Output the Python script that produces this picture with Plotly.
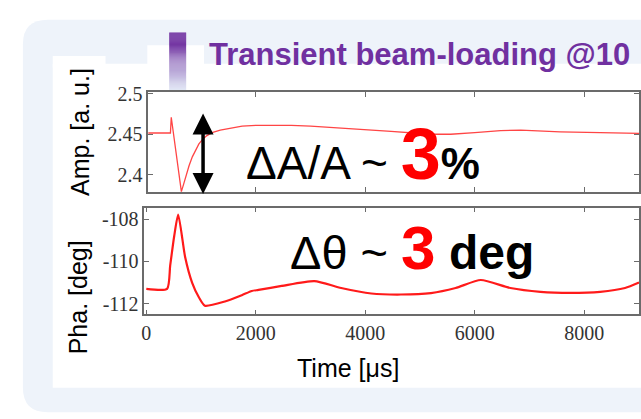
import plotly.graph_objects as go

# ---- measured RF amplitude / phase during beam loading ----
t_amp = [0, 440, 455, 640, 680, 720, 780, 840, 900, 960, 1020, 1100, 1200, 1350, 1500,
         1750, 2000, 2650, 3000, 3750, 4470, 5200, 5560, 6000, 6470, 6840, 7560, 8290,
         8840, 9000]
amp = [2.4515, 2.4515, 2.471, 2.379, 2.388, 2.398, 2.411, 2.422, 2.431, 2.438, 2.443,
       2.448, 2.452, 2.455, 2.457, 2.460, 2.461, 2.461, 2.460, 2.457, 2.4536, 2.450,
       2.450, 2.452, 2.4545, 2.455, 2.453, 2.452, 2.451, 2.451]

t_pha = [0, 380, 436, 509, 582, 710, 836, 960, 1070, 1436, 1745, 1927, 2050, 2473, 3070,
         3560, 4110, 4650, 5200, 5650, 6110, 6650, 7200, 7745, 8290, 8745, 9000]
pha = [-111.3, -111.3, -110.2, -108.8, -107.77, -109.8, -111.0, -111.7, -112.1, -111.9,
       -111.6, -111.4, -111.35, -111.16, -110.93, -111.26, -111.52, -111.57, -111.5,
       -111.26, -110.88, -111.26, -111.44, -111.49, -111.44, -111.26, -111.0]

x_ticks = [0, 2000, 4000, 6000, 8000]
amp_ticks = [2.4, 2.45, 2.5]
amp_ticktext = ["2.4", "2.45", "2.5"]
pha_ticks = [-112, -110, -108]
pha_ticktext = ["-112", "-110", "-108"]

W, H = 641, 419


def px(x):
    return x / W


def py(y):
    return 1 - y / H


SERIF = "Liberation Serif, Times New Roman, serif"
SANS = "Liberation Sans, Arial, sans-serif"
FRAME = "#6b6b6b"

fig = go.Figure()
fig.add_trace(go.Scatter(x=t_amp, y=amp, mode="lines", xaxis="x", yaxis="y",
                         line=dict(color="#ff4545", width=1.3), showlegend=False))
fig.add_trace(go.Scatter(x=t_pha, y=pha, mode="lines", xaxis="x2", yaxis="y2",
                         line=dict(color="#ff1a1a", width=2.2, shape="spline",
                                   smoothing=0.6),
                         showlegend=False))

axis_common = dict(showgrid=False, zeroline=False, showline=True, linecolor=FRAME,
                   linewidth=1.5, mirror="ticks", ticks="inside", ticklen=5,
                   tickcolor=FRAME, tickwidth=1.2,
                   tickfont=dict(family=SERIF, size=20, color="#333333"))

fig.update_layout(
    width=W, height=H, margin=dict(l=0, r=0, t=0, b=0),
    paper_bgcolor="white", plot_bgcolor="white",
    xaxis=dict(domain=[px(146), px(639)], range=[36, 9000], anchor="y",
               tickvals=x_ticks, showticklabels=False, **axis_common),
    yaxis=dict(domain=[py(187), py(85)], range=[2.3786, 2.502], anchor="x",
               tickvals=amp_ticks, ticktext=amp_ticktext, **axis_common),
    xaxis2=dict(domain=[px(142), px(639)], range=[-36, 9000], anchor="y2",
                tickvals=x_ticks, ticklabelstandoff=0, **axis_common),
    yaxis2=dict(domain=[py(312), py(203)], range=[-112.51, -107.44], anchor="x2",
                tickvals=pha_ticks, ticktext=pha_ticktext, **axis_common),
)


# ---- slide panel behind the chart ----
def rounded_rect(x0, y0, x1, y1, r):
    rx, ry = r / W, r / H
    X0, X1, Y0, Y1 = px(x0), px(x1), py(y0), py(y1)
    return (f"M{X0 + rx},{Y0} L{X1 - rx},{Y0} Q{X1},{Y0} {X1},{Y0 - ry} "
            f"L{X1},{Y1 + ry} Q{X1},{Y1} {X1 - rx},{Y1} L{X0 + rx},{Y1} "
            f"Q{X0},{Y1} {X0},{Y1 + ry} L{X0},{Y0 - ry} Q{X0},{Y0} {X0 + rx},{Y0} Z")


def white_box(x0, x1, y0, y1):
    return dict(type="rect", xref="paper", yref="paper", x0=px(x0), x1=px(x1),
                y0=py(y1), y1=py(y0), fillcolor="white", line=dict(width=0),
                layer="below")


shapes = [
    dict(type="path", xref="paper", yref="paper", path=rounded_rect(20, 11, 700, 412, 25),
         fillcolor="#eef3fa", line=dict(width=0), layer="below"),
    white_box(50, 641, 56, 387),
    white_box(50, 103, 48, 60),
    white_box(145, 202, 37, 60),
]

# gradient accent bar next to the heading
top_c, bot_c = (0x70, 0x30, 0xa0), (0xdd, 0xe3, 0xf3)
n = 60
y_top, y_bot = 24, 83
for i in range(n):
    f = i / (n - 1)
    g = min(1.0, max(0.0, (f - 0.2) / 0.8)) ** 0.75
    c = tuple(round(a + (b - a) * g) for a, b in zip(top_c, bot_c))
    ya = y_top + (y_bot - y_top) * i / n
    yb = y_top + (y_bot - y_top) * (i + 1) / n + 0.3
    shapes.append(dict(type="rect", xref="paper", yref="paper", x0=px(167), x1=px(184),
                       y0=py(yb), y1=py(ya), fillcolor="rgb(%d,%d,%d)" % c,
                       line=dict(width=0), layer="below"))
fig.update_layout(shapes=shapes)

ann = [
    dict(text="<b>Transient beam-loading @10</b>", x=px(205), y=py(47), xanchor="left",
         yanchor="middle", font=dict(family=SANS, size=31, color="#7030a0")),
    dict(text="Amp. [a. u.]", x=px(78), y=py(126), textangle=-90, xanchor="center",
         yanchor="middle", font=dict(family=SANS, size=25, color="black")),
    dict(text="Pha. [deg]", x=px(75), y=py(295), textangle=-90, xanchor="center",
         yanchor="middle", font=dict(family=SANS, size=25, color="black")),
    dict(text="Time [μs]", x=px(347), y=py(367), xanchor="center", yanchor="middle",
         font=dict(family=SANS, size=25, color="black")),
    dict(text="ΔA/A ~ <span style='font-size:72px;color:#ff0000'><b>3</b></span>"
              "<span style='font-size:44px'><b>%</b></span>",
         x=px(242), y=py(191), xanchor="left", yanchor="bottom",
         font=dict(family=SANS, size=46, color="black")),
    dict(text="Δθ ~ <span style='font-size:62px;color:#ff0000'><b>3</b></span>"
              "<span style='font-size:48px'><b> deg</b></span>",
         x=px(286), y=py(281), xanchor="left", yanchor="bottom",
         font=dict(family=SANS, size=47, color="black")),
    # double-headed arrow spanning the amplitude dip
    dict(text="", x=px(201), y=py(189), ax=0, ay=-82, axref="pixel", ayref="pixel",
         showarrow=True, arrowhead=2, arrowside="end+start",
         arrowwidth=3.5, arrowsize=1.2, arrowcolor="black"),
]
for a in ann:
    a.setdefault("xref", "paper")
    a.setdefault("yref", "paper")
    a.setdefault("showarrow", False)
fig.update_layout(annotations=ann)

fig.write_html("out.html")
